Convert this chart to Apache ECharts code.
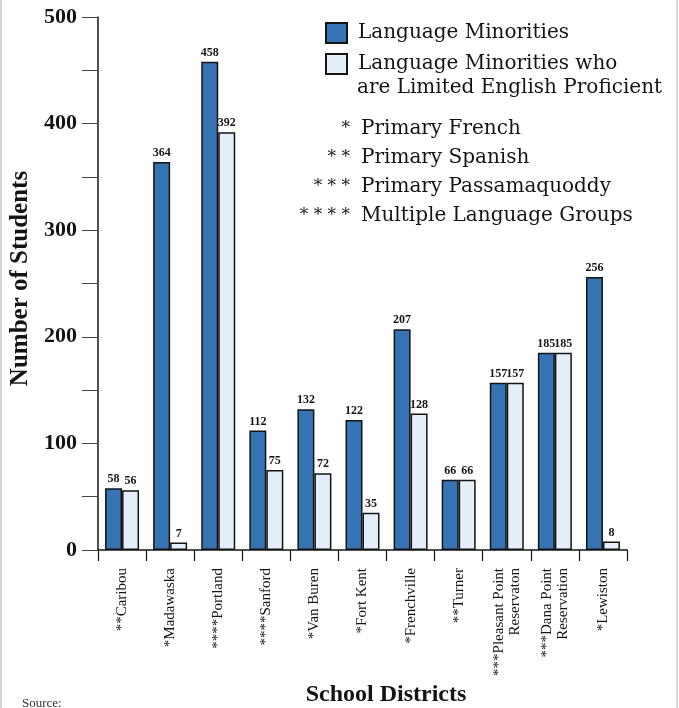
<!DOCTYPE html>
<html>
<head>
<meta charset="utf-8">
<script src="https://cdn.jsdelivr.net/npm/echarts@6/dist/echarts.min.js"></script>
<style>
  html, body { margin: 0; padding: 0; background: #fff; }
  #chart { width: 679px; height: 708px; }
</style>
</head>
<body>
<div id="chart"></div>
<script>
// School districts (asterisks mark the primary language group)
var districts = [
  '**Caribou', '*Madawaska', '****Portland', '****Sanford', '*Van Buren',
  '*Fort Kent', '*Frenchville', '**Turner', '***Pleasant Point\nReservaton',
  '***Dana Point\nReservation', '*Lewiston'
];
// Students who are language minorities
var minorities = [58, 364, 458, 112, 132, 122, 207, 66, 157, 185, 256];
// Language minorities who are limited English proficient
var limitedEnglish = [56, 7, 392, 75, 72, 35, 128, 66, 157, 185, 8];
// Y axis tick values
var yTicks = [0, 100, 200, 300, 400, 500];
// Key to the asterisks
var noteMarks = ['*', '* *', '* * *', '* * * *'];
var noteTexts = ['Primary French', 'Primary Spanish', 'Primary Passamaquoddy', 'Multiple Language Groups'];

var SERIF = '"Liberation Serif", "DejaVu Serif", serif';
var WIDE_SERIF = '"DejaVu Serif", "Liberation Serif", serif';
var DARK = '#3573b3';
var LIGHT = '#e6eef9';
var INK = '#141414';

var chart = echarts.init(document.getElementById('chart'), null, { renderer: 'canvas' });

var graphics = [];
// thin page frame on both sides
graphics.push({ type: 'line', shape: { x1: 1, y1: 0, x2: 1, y2: 708 }, style: { stroke: '#c8c8c8', lineWidth: 1.5 } });
graphics.push({ type: 'line', shape: { x1: 677, y1: 0, x2: 677, y2: 708 }, style: { stroke: '#c8c8c8', lineWidth: 1.5 } });
// second line of the second legend entry
graphics.push({
  type: 'text', x: 357, y: 88,
  style: { text: 'are Limited English Proficient', font: '20px ' + WIDE_SERIF, fill: INK, verticalAlign: 'middle' }
});
// asterisk key
noteMarks.forEach(function (m, i) {
  var y = 129 + i * 29;
  graphics.push({
    type: 'text', x: 350, y: y,
    style: { text: m, font: '17px ' + WIDE_SERIF, fill: INK, align: 'right', verticalAlign: 'middle' }
  });
  graphics.push({
    type: 'text', x: 361, y: y,
    style: { text: noteTexts[i], font: '20px ' + WIDE_SERIF, fill: INK, align: 'left', verticalAlign: 'middle' }
  });
});
// x axis title
graphics.push({
  type: 'text', x: 386, y: 695,
  style: { text: 'School Districts', font: 'bold 24px ' + SERIF, fill: INK, align: 'center', verticalAlign: 'middle' }
});
// source note at the foot
graphics.push({
  type: 'text', x: 22, y: 704,
  style: { text: 'Source:', font: '13px ' + SERIF, fill: '#333', align: 'left', verticalAlign: 'middle' }
});

var valueLabel = {
  show: true, position: 'top', distance: 3,
  fontFamily: SERIF, fontSize: 12, fontWeight: 'bold', color: INK
};

chart.setOption({
  animation: false,
  backgroundColor: '#fff',
  grid: { left: 98, right: 52, top: 17, bottom: 158, containLabel: false, outerBoundsMode: 'none' },
  legend: {
    orient: 'vertical', left: 320, top: 17,
    itemWidth: 21, itemHeight: 20, itemGap: 9,
    icon: 'rect',
    textStyle: { fontFamily: WIDE_SERIF, fontSize: 20, color: INK, padding: [0, 0, 0, 6] },
    formatter: function (name) {
      return name === 'Language Minorities' ? name : 'Language Minorities who';
    },
    data: ['Language Minorities', 'Language Minorities who are Limited English Proficient']
  },
  xAxis: {
    type: 'category',
    data: districts,
    axisLine: { show: true, lineStyle: { color: INK, width: 1.5 } },
    axisTick: { show: true, length: 11, lineStyle: { color: INK, width: 1.2 } },
    axisLabel: {
      interval: 0, rotate: 90, margin: 18,
      fontFamily: SERIF, fontSize: 15, color: INK, lineHeight: 16
    },
    splitLine: { show: false }
  },
  yAxis: {
    type: 'value', min: yTicks[0], max: yTicks[yTicks.length - 1], interval: 100,
    axisLine: { show: true, lineStyle: { color: INK, width: 1.5 } },
    axisTick: { show: true, length: 16, lineStyle: { color: '#444', width: 1 } },
    minorTick: { show: true, splitNumber: 2, length: 16, lineStyle: { color: '#444', width: 1 } },
    axisLabel: {
      margin: 21, fontFamily: SERIF, fontSize: 22, fontWeight: 'bold', color: INK
    },
    splitLine: { show: false },
    name: 'Number of Students',
    nameLocation: 'middle', nameGap: 55, nameRotate: 90,
    nameTextStyle: { fontFamily: SERIF, fontSize: 25, fontWeight: 'bold', color: INK, padding: [0, 0, 0, 10] }
  },
  series: [
    {
      name: 'Language Minorities',
      type: 'bar', data: minorities,
      barWidth: 17, barGap: '0%',
      itemStyle: { color: DARK, borderColor: INK, borderWidth: 1.5 },
      label: valueLabel
    },
    {
      name: 'Language Minorities who are Limited English Proficient',
      type: 'bar', data: limitedEnglish,
      barWidth: 17, barGap: '0%',
      itemStyle: { color: LIGHT, borderColor: INK, borderWidth: 1.5 },
      label: valueLabel
    }
  ],
  graphic: graphics
});
</script>
</body>
</html>
